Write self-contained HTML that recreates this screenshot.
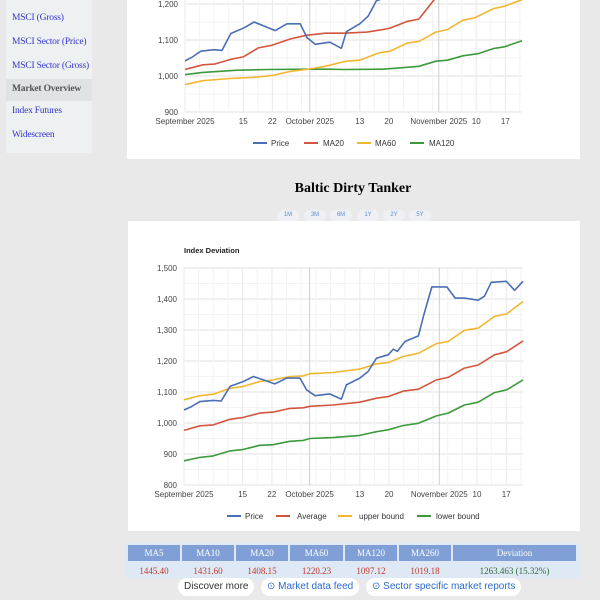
<!DOCTYPE html>
<html><head><meta charset="utf-8"><style>
body{margin:0;width:600px;height:600px;background:#e9e9e9;position:relative;overflow:hidden;font-family:"Liberation Sans",sans-serif}
.abs{position:absolute}
.side{left:6px;width:86px;background:#eef1f1}
.si{position:absolute;left:6px;font-family:"Liberation Serif",serif;font-size:9.5px;color:#3333cc;white-space:nowrap;letter-spacing:-0.2px}
.card{background:#fff}
.btn{position:absolute;top:210px;width:22px;height:11px;border-radius:6px;background:#eef0f3;color:#5a8fd8;font-size:6px;text-align:center;line-height:11px}
table{border-collapse:separate;border-spacing:2px 1px;font-family:"Liberation Serif",serif;font-size:9px}
th{background:#7f9fd6;color:#fff;font-weight:normal;height:14px}
td{background:#dfe8f5;color:#c0392b;text-align:center;height:15px}
.pill{position:absolute;top:578px;height:18px;line-height:18px;border-radius:9px;background:#fff;font-size:10px;padding:0 6px}
</style></head><body>
<div class="abs side" style="top:0;height:153px">
<div class="si" style="top:13px">MSCI (Gross)</div>
<div class="si" style="top:37px">MSCI Sector (Price)</div>
<div class="si" style="top:61px">MSCI Sector (Gross)</div>
<div class="abs" style="left:0;top:79px;width:86px;height:22px;background:#dfe3e3"></div>
<div class="si" style="top:84px;color:#555;font-weight:bold">Market Overview</div>
<div class="si" style="top:106px">Index Futures</div>
<div class="si" style="top:130px">Widescreen</div>
</div>
<div class="abs card" style="left:127px;top:0;width:453px;height:159px"></div>
<div class="abs card" style="left:128px;top:221px;width:452px;height:310px"></div>
<div class="abs" style="left:200px;width:306px;top:181px;text-align:center;font-family:'Liberation Serif',serif;font-weight:bold;font-size:14px">Baltic Dirty Tanker</div>
<div class="btn" style="left:277px">1M</div>
<div class="btn" style="left:304px">3M</div>
<div class="btn" style="left:330px">6M</div>
<div class="btn" style="left:357px">1Y</div>
<div class="btn" style="left:383px">2Y</div>
<div class="btn" style="left:409px">5Y</div>
<svg id="svg" class="abs" style="left:0;top:0" width="600" height="600"></svg>
<div class="abs" style="left:126px;top:543px;width:454px;height:35px;background:#dfe8f5"></div>
<table class="abs" style="left:126px;top:544px">
<tr><th style="width:50px">MA5</th><th style="width:50px">MA10</th><th style="width:50px">MA20</th><th style="width:51px">MA60</th><th style="width:50px">MA120</th><th style="width:50px">MA260</th><th style="width:121px">Deviation</th></tr>
<tr><td>1445.40</td><td>1431.60</td><td>1408.15</td><td>1220.23</td><td>1097.12</td><td>1019.18</td><td style="color:#2e6b3a">1263.463 (15.32%)</td></tr>
</table>
<div class="pill" style="left:178px;color:#333">Discover more</div>
<div class="pill" style="left:261px;color:#2a6ad0">⊙ Market data feed</div>
<div class="pill" style="left:366px;color:#2a6ad0">⊙ Sector specific market reports</div>
<script>
const priceDays=[0,1.8,3.8,7,8.9,11,14.2,16.6,19,21.7,24.5,27.7,29.3,31.3,34.8,37.6,38.8,42,44,46,48.8,50,51,52.8,56,57.2,59.2,62.8,64.8,67,70.3,71.8,73.4,77,79,81];
const priceVals=[1042,1053,1069,1073,1071,1118,1134,1150,1139,1126,1145,1145,1107,1088,1094,1077,1123,1145,1166,1209,1220,1238,1231,1263,1281,1344,1439,1439,1403,1403,1396,1409,1454,1457,1428,1457];
const bandDays=[0,3.8,7,11,14.2,18.1,21.3,25.3,28.5,30.1,35.6,42,46,48.8,52.4,56,60.3,63.1,67,70.3,74.2,77.1,81];
const upperVals=[1075,1088,1093,1112,1118,1134,1139,1150,1152,1159,1163,1174,1191,1195,1215,1225,1256,1263,1299,1306,1344,1352,1392];
const avgVals=[976,991,994,1012,1018,1032,1035,1047,1049,1054,1058,1067,1080,1085,1103,1109,1139,1147,1177,1187,1220,1230,1265];
const lowerVals=[878,889,894,910,915,928,930,941,944,950,953,960,972,978,992,999,1023,1032,1058,1067,1098,1107,1139];
const ma20Days=[0,4.3,7.1,11.2,14,17.6,20.8,25.4,29.1,33.7,38.3,43.8,47.5,49.3,53.5,56.2,59.9,65,81];
const ma20Vals=[1018,1031,1033,1047,1053,1078,1085,1103,1113,1119,1119,1122,1129,1133,1152,1158,1212,1250,1320];
const ma60Days=[0,4.3,10.7,16.3,20.8,25.4,29.1,33.7,38.7,42,46.5,49.3,53.5,56.2,60.3,63.1,66.8,69.5,74.1,76.8,81];
const ma60Vals=[976,987,993,996,1001,1013,1018,1027,1041,1044,1064,1069,1092,1096,1122,1129,1155,1161,1187,1194,1212];
const ma120Days=[0,4.3,12.6,19.9,29.1,34.6,38.3,47.5,51.2,56.2,60.3,63.1,66.8,70.4,74.1,76.8,81];
const ma120Vals=[1004,1010,1016,1018,1019,1019,1018,1019,1022,1027,1041,1044,1056,1062,1076,1081,1098];
const tickDays=[0,14,21,30,42,49,61,70,77];
const tickLabels=["September 2025","15","22","October 2025","13","20","November 2025","10","17"];
const topYTicks=[900,1000,1100,1200];
const botYTicks=[800,900,1000,1100,1200,1300,1400,1500];

const svg=document.getElementById('svg');const NS='http://www.w3.org/2000/svg';
function mk(t,a,p){const e=document.createElementNS(NS,t);for(const k in a)e.setAttribute(k,a[k]);(p||svg).appendChild(e);return e;}
const topC={x:d=>185+d*(522-185)/81,y:v=>4+(1200-v)*0.36,x0:185,x1:522,yb:112,yt:0};
const botC={x:d=>184+d*(523-184)/81,y:v=>268+(1500-v)*0.31,x0:184,x1:523,yb:485,yt:268};
const COL={blue:'#4a6fb5',red:'#d2553e',yel:'#f2b731',grn:'#3d9a3d'};
mk('defs',{}).innerHTML='<clipPath id="ct"><rect x="185" y="0" width="340" height="113"/></clipPath>';
function grid(c,yt){
  for(let v=yt[0];v<=yt[yt.length-1]+100;v+=50){const y=c.y(v);if(y<0||y<c.yt)continue;const l=mk('line',{x1:c.x0,x2:c.x1,y1:y,y2:y,stroke:v%100?'#f3f3f3':'#e2e2e2','stroke-width':1});
  
  }
  for(let d=0;d<=81;d+=3.5){const x=c.x(d);mk('line',{x1:x,x2:x,y1:c.yt,y2:c.yb,stroke:'#f3f3f3'});}
  tickDays.forEach((d,i)=>{const x=c.x(d);const l=mk('line',{x1:x,x2:x,y1:c.yt,y2:c.yb,stroke:(i==3||i==6)?'#cfcfcf':'#ebebeb'});
  
  
  const t=mk('text',{x:x,y:c.yb+12,'font-size':8,fill:'#444','text-anchor':'middle'});t.textContent=tickLabels[i];
  
  });
  yt.forEach(v=>{const y=c.y(v);if(y<0)return;const t=mk('text',{x:c.x0-7,y:y+3,'font-size':8,fill:'#444','text-anchor':'end'});t.textContent=v.toLocaleString('en-US');
  
  });
}
function line(c,days,vals,col,name,clip){const p=mk('path',{d:days.map((d,i)=>(i?'L':'M')+c.x(d).toFixed(1)+','+c.y(vals[i]).toFixed(1)).join(''),fill:'none',stroke:col,'stroke-width':1.6,'stroke-linejoin':'round'});
  if(clip)p.setAttribute('clip-path','url(#ct)');
  
  }
function legend(items,y){items.forEach(it=>{mk('line',{x1:it[0],x2:it[0]+14,y1:y,y2:y,stroke:it[2],'stroke-width':2});const t=mk('text',{x:it[1],y:y+3,'font-size':8,fill:'#333'});t.textContent=it[3];
  
  });}
grid(topC,topYTicks);
line(topC,ma120Days,ma120Vals,COL.grn,'top-ma120-line',1);
line(topC,ma60Days,ma60Vals,COL.yel,'top-ma60-line',1);
line(topC,ma20Days,ma20Vals,COL.red,'top-ma20-line',1);
line(topC,priceDays,priceVals,COL.blue,'top-price-line',1);
legend([[253,271,COL.blue,'Price'],[304,323,COL.red,'MA20'],[357,375,COL.yel,'MA60'],[410,429,COL.grn,'MA120']],143);
const tt=mk('text',{x:184,y:253,'font-size':7.5,'font-weight':'bold',fill:'#222'});tt.textContent='Index Deviation';


grid(botC,botYTicks);
line(botC,bandDays,lowerVals,COL.grn,'lower-bound-line');
line(botC,bandDays,avgVals,COL.red,'average-line');
line(botC,bandDays,upperVals,COL.yel,'upper-bound-line');
line(botC,priceDays,priceVals,COL.blue,'price-line');
legend([[227,245,COL.blue,'Price'],[276,297,COL.red,'Average'],[338,359,COL.yel,'upper bound'],[417,436,COL.grn,'lower bound']],516);
</script>
</body></html>
